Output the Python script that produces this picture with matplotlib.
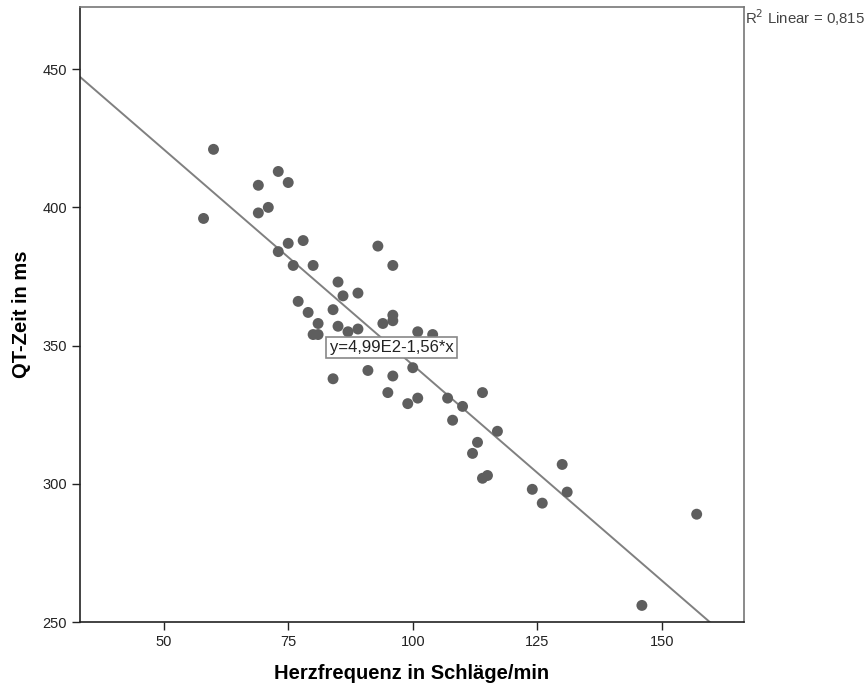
import matplotlib
matplotlib.use("Agg")
import matplotlib.pyplot as plt
import numpy as np

# Data
herzfrequenz = [58, 60, 69, 69, 71, 73, 75, 73, 75, 78, 76, 80, 77, 79, 81, 80, 81,
                84, 85, 86, 85, 89, 87, 89, 84, 91, 93, 94, 96, 96, 96, 95, 96,
                101, 104, 100, 99, 101, 107, 110, 108, 114, 117, 113, 112, 114, 115,
                124, 126, 130, 131, 146, 157]
qt_zeit = [396, 421, 408, 398, 400, 413, 409, 384, 387, 388, 379, 379, 366, 362, 358, 354, 354,
           363, 373, 368, 357, 369, 355, 356, 338, 341, 386, 358, 379, 361, 359, 333, 339,
           355, 354, 342, 329, 331, 331, 328, 323, 333, 319, 315, 311, 302, 303,
           298, 293, 307, 297, 256, 289]
intercept = 499.0
slope = -1.56
r2_text = "R$^2$ Linear = 0,815"
eq_text = "y=4,99E2-1,56*x"
x_ticks = [50, 75, 100, 125, 150]
y_ticks = [250, 300, 350, 400, 450]

plt.rcParams['font.family'] = ['Liberation Sans', 'DejaVu Sans']

fig = plt.figure(figsize=(8.67, 6.88), dpi=100)
ax = fig.add_axes([80/867, 1-622/688, (744-80)/867, (622-7)/688])

xlim = (33.2, 166.5)
ylim = (250, 472.5)

xl = np.array(xlim)
ax.plot(xl, intercept + slope*xl, color='#808080', lw=1.4, zorder=2)
ax.scatter(herzfrequenz, qt_zeit, s=62, color='#5e5e5e', edgecolors='none', zorder=3)

ax.set_xlim(*xlim)
ax.set_ylim(*ylim)
ax.set_xticks(x_ticks)
ax.set_yticks(y_ticks)
ax.tick_params(direction='out', length=6, width=1, colors='#222222', labelsize=10.5, labelcolor='#222222')
for s in ['left', 'bottom']:
    ax.spines[s].set_color('#222222')
for s in ['top', 'right']:
    ax.spines[s].set_color('#777777')
for s in ax.spines.values():
    s.set_linewidth(1.2)

ax.set_xlabel("Herzfrequenz in Schläge/min", fontsize=14.5, fontweight='bold', labelpad=11)
ax.set_ylabel("QT-Zeit in ms", fontsize=14.5, fontweight='bold', labelpad=8)

ax.text(83.3, 349.3, eq_text, fontsize=12, ha='left', va='center', color='#222222',
        bbox=dict(boxstyle='square,pad=0.2', fc='white', ec='#888888', lw=1.2), zorder=4)

fig.text(745/867, 1-18/688, r2_text, fontsize=10.8, ha='left', va='center', color='#444444')

fig.savefig("out.png", dpi=100)
